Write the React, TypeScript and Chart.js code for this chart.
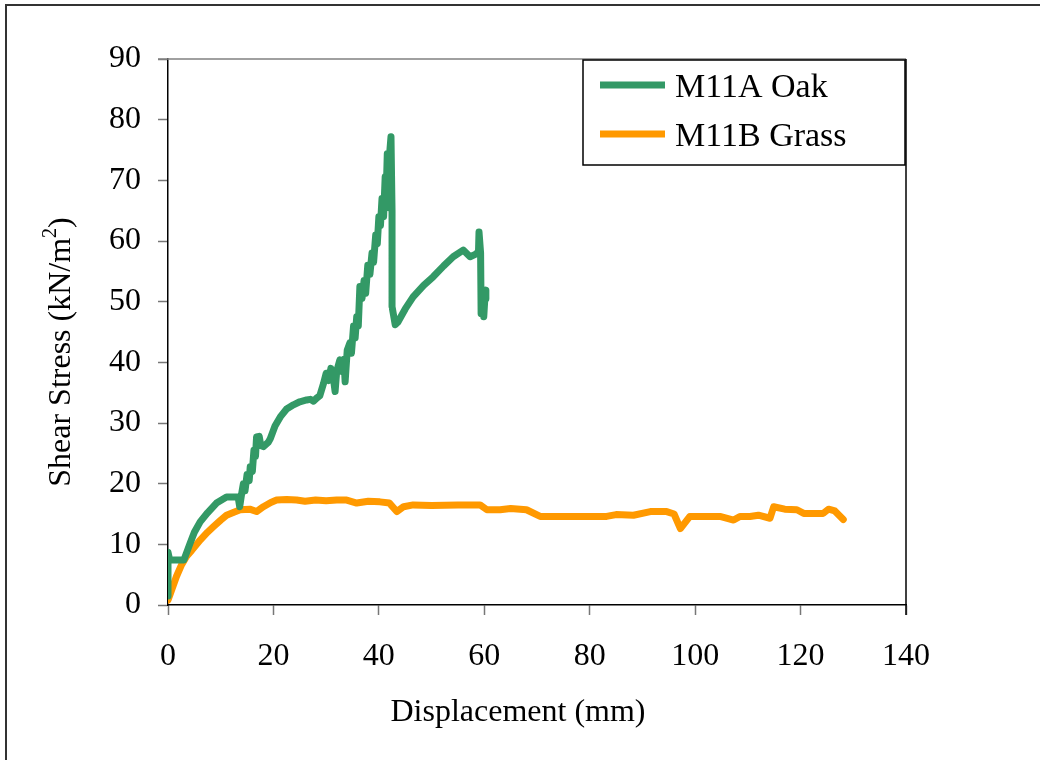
import React, { useEffect, useRef } from "react";
import { Chart, registerables } from "chart.js";

Chart.register(...registerables);

const seriesLabels = ["M11A Oak", "M11B Grass"];
const seriesColors = ["#339966", "#FF9900"];

const oakX = [0, 0, 0.3, 1, 3, 4.2, 5, 6.1, 7.5, 9.2, 11.1, 13.3, 13.6, 14.0, 14.3, 14.6, 15.0, 15.4, 15.6, 16.0, 16.3, 16.6, 16.8, 17.3, 17.6, 18.1, 19.0, 19.4, 20.3, 21.3, 22.5, 23.8, 25, 26.3, 27, 27.6, 28.2, 28.8, 29.5, 30.0, 30.5, 30.9, 31.4, 31.7, 32.0, 32.6, 33.0, 33.4, 33.6, 34.0, 34.5, 34.8, 35.2, 35.5, 35.8, 36.1, 36.4, 36.8, 37.2, 37.5, 37.9, 38.3, 38.7, 39.0, 39.4, 39.7, 40.0, 40.3, 40.6, 40.9, 41.2, 41.4, 41.6, 41.9, 42.1, 42.3, 42.5, 42.5, 43.1, 43.6, 45, 46.5, 48.5, 50.3, 52.3, 54.1, 56, 57.3, 58.3, 58.9, 59.0, 59.3, 59.4, 59.6, 59.9, 60.2, 60.3];
const oakY = [1.5, 8.7, 7.5, 7.4, 7.4, 10.2, 12, 13.7, 15.2, 16.8, 17.8, 17.8, 16.2, 18.5, 20, 18.8, 21.5, 20.5, 22.8, 22, 25.5, 24.5, 27.7, 27.8, 26.3, 26.1, 26.8, 27.4, 29.5, 31, 32.3, 33, 33.5, 33.8, 33.9, 33.6, 34.1, 34.5, 36.5, 38.2, 37, 39, 37.2, 35.2, 38.5, 40.4, 38.5, 40.5, 36.8, 42, 43.2, 41.5, 46, 44, 47.5, 46, 52.5, 50.5, 53.5, 51.4, 56, 54.5, 58, 56.5, 61, 59.5, 64, 62.5, 67, 64, 70.6, 68, 74.4, 65.5, 75, 77.2, 65, 49.2, 46.2, 46.6, 48.8, 50.8, 52.7, 54.1, 55.9, 57.4, 58.5, 57.4, 57.8, 58.2, 61.5, 58, 48, 52, 47.5, 51.9, 50.5];

const grassX = [0, 0.5, 1.6, 2.5, 3.5, 4.5, 6.1, 7.5, 8.6, 10, 11.1, 12.5, 13.7, 15.5, 16.8, 18.1, 19.5, 20.6, 22.5, 24.4, 26, 28, 30, 32, 33.9, 35.8, 38, 40.2, 42, 43.4, 44.7, 46.5, 50, 55, 59.2, 60.5, 63, 65, 68, 70.6, 75, 80, 83.2, 85, 88.3, 91.5, 94.6, 96, 97.2, 99, 102, 104.7, 107.3, 108.5, 110.4, 112, 114.2, 114.9, 117, 119.3, 120.6, 124.3, 125.3, 126.5, 128.1];
const grassY = [0.8, 2, 4.7, 6.5, 8, 9, 10.7, 12, 12.9, 14, 14.8, 15.3, 15.7, 15.8, 15.4, 16.2, 16.9, 17.3, 17.4, 17.3, 17.1, 17.3, 17.2, 17.3, 17.3, 16.8, 17.1, 17.0, 16.8, 15.4, 16.2, 16.5, 16.4, 16.5, 16.5, 15.7, 15.7, 15.9, 15.7, 14.6, 14.6, 14.6, 14.6, 14.9, 14.8, 15.4, 15.4, 15.0, 12.6, 14.6, 14.6, 14.6, 14.0, 14.6, 14.6, 14.8, 14.3, 16.2, 15.8, 15.7, 15.1, 15.1, 15.8, 15.5, 14.1];

const xTicks = { min: 0, max: 140, step: 20 };
const yTicks = { min: 0, max: 90, step: 10 };
const xTitle = "Displacement (mm)";
const yTitleMain = "Shear Stress (kN/m";
const yTitleSup = "2";
const yTitleEnd = ")";

const FONT = "'Liberation Serif', 'Times New Roman', serif";

const decorPlugin = {
  id: "decor",
  afterDraw(chart: any) {
    const { ctx, chartArea } = chart;
    const { left, right, top, bottom } = chartArea;
    ctx.save();
    // outer frame
    ctx.strokeStyle = "#333";
    ctx.lineWidth = 2;
    ctx.beginPath();
    ctx.moveTo(6, 760);
    ctx.lineTo(6, 5);
    ctx.lineTo(1040, 5);
    ctx.stroke();
    // top border (gray) & right border (black)
    ctx.lineWidth = 1.5;
    ctx.strokeStyle = "#808080";
    ctx.beginPath();
    ctx.moveTo(left - 10, top);
    ctx.lineTo(right, top);
    ctx.stroke();
    ctx.strokeStyle = "#000";
    ctx.beginPath();
    ctx.moveTo(right, top);
    ctx.lineTo(right, bottom + 10);
    ctx.stroke();

    // x title
    ctx.fillStyle = "#000";
    ctx.font = `32px ${FONT}`;
    ctx.textAlign = "center";
    ctx.textBaseline = "middle";
    ctx.fillText(xTitle, 518, 713);

    // y title with superscript
    ctx.save();
    ctx.translate(62, 352);
    ctx.rotate(-Math.PI / 2);
    ctx.textAlign = "left";
    ctx.font = `32px ${FONT}`;
    const w1 = ctx.measureText(yTitleMain).width;
    const w3 = ctx.measureText(yTitleEnd).width;
    ctx.font = `20px ${FONT}`;
    const w2 = ctx.measureText(yTitleSup).width;
    const total = w1 + w2 + w3;
    let x0 = -total / 2;
    ctx.font = `32px ${FONT}`;
    ctx.fillText(yTitleMain, x0, 0);
    x0 += w1;
    ctx.font = `20px ${FONT}`;
    ctx.fillText(yTitleSup, x0, -11);
    x0 += w2;
    ctx.font = `32px ${FONT}`;
    ctx.fillText(yTitleEnd, x0, 0);
    ctx.restore();

    // legend
    const lx = 583, ly = 60, lw = 322, lh = 105;
    ctx.fillStyle = "#fff";
    ctx.fillRect(lx, ly, lw, lh);
    ctx.strokeStyle = "#000";
    ctx.lineWidth = 1.5;
    ctx.strokeRect(lx, ly, lw, lh);
    chart.data.datasets.forEach((ds: any, i: number) => {
      const cy = ly + 25 + i * 49;
      ctx.strokeStyle = ds.borderColor;
      ctx.lineWidth = 7;
      ctx.lineCap = "butt";
      ctx.beginPath();
      ctx.moveTo(600, cy);
      ctx.lineTo(665, cy);
      ctx.stroke();
      ctx.fillStyle = "#000";
      ctx.font = `34px ${FONT}`;
      ctx.textAlign = "left";
      ctx.textBaseline = "middle";
      ctx.fillText(ds.label, 675, cy + 3);
    });
    ctx.restore();
  },
};

export default function App() {
  const ref = useRef<HTMLCanvasElement>(null);
  useEffect(() => {
    if (!ref.current) return;
    const mk = (xs: number[], ys: number[]) => xs.map((x, i) => ({ x, y: ys[i] }));
    const chart = new Chart(ref.current, {
      type: "line",
      data: {
        datasets: [
          {
            label: seriesLabels[0],
            data: mk(oakX, oakY),
            borderColor: seriesColors[0],
            backgroundColor: seriesColors[0],
            borderWidth: 7,
            pointRadius: 0,
            tension: 0,
            borderJoinStyle: "round",
            borderCapStyle: "round",
          },
          {
            label: seriesLabels[1],
            data: mk(grassX, grassY),
            borderColor: seriesColors[1],
            backgroundColor: seriesColors[1],
            borderWidth: 7,
            pointRadius: 0,
            tension: 0,
            borderJoinStyle: "round",
            borderCapStyle: "round",
          },
        ],
      },
      options: {
        responsive: false,
        animation: false,
        devicePixelRatio: 1,
        layout: { padding: { left: 0, top: 59, right: 134, bottom: 0 } },
        plugins: { legend: { display: false }, tooltip: { enabled: false } },
        scales: {
          x: {
            type: "linear",
            min: xTicks.min,
            max: xTicks.max,
            afterFit: (s: any) => { s.height = 155; },
            ticks: {
              stepSize: xTicks.step,
              color: "#000",
              padding: 22,
              font: { family: FONT, size: 32 },
              maxRotation: 0,
            },
            grid: { drawOnChartArea: false, tickLength: 10, tickColor: "#777", tickWidth: 1.5 },
            border: { color: "#000", width: 1.5 },
          },
          y: {
            type: "linear",
            min: yTicks.min,
            max: yTicks.max,
            afterFit: (s: any) => { s.width = 168; },
            ticks: {
              stepSize: yTicks.step,
              color: "#000",
              padding: 17,
              font: { family: FONT, size: 32 },
            },
            grid: { drawOnChartArea: false, tickLength: 10, tickColor: "#777", tickWidth: 1.5 },
            border: { color: "#000", width: 1.5 },
          },
        },
      },
      plugins: [decorPlugin],
    } as any);
    return () => chart.destroy();
  }, []);
  return (
    <div style={{ position: "absolute", left: 0, top: 0, width: 1040, height: 760, background: "#fff" }}>
      <canvas ref={ref} width={1040} height={760} style={{ width: 1040, height: 760 }} />
    </div>
  );
}
